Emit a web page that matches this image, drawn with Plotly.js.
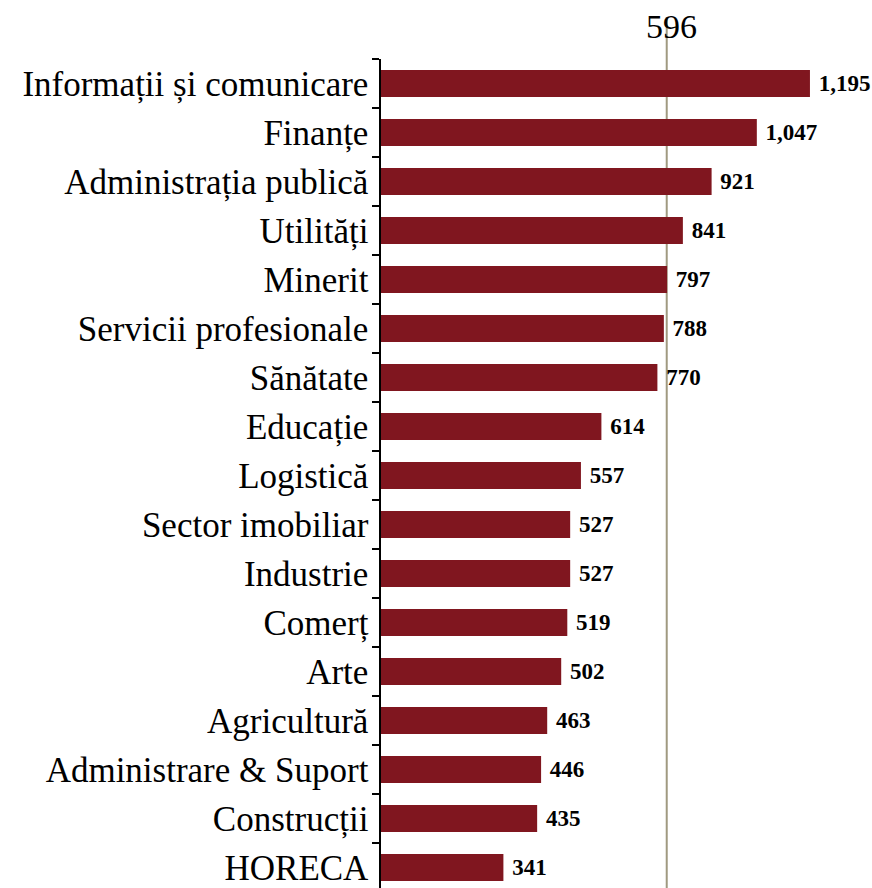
<!DOCTYPE html>
<html>
<head>
<meta charset="utf-8">
<script src="https://cdn.plot.ly/plotly-3.0.1.min.js"></script>
<style>html,body{margin:0;padding:0;background:#fff;}#chart{width:872px;height:888px;}</style>
</head>
<body>
<div id="chart"></div>
<script>
var categories = ["Informații și comunicare","Finanțe","Administrația publică","Utilități","Minerit","Servicii profesionale","Sănătate","Educație","Logistică","Sector imobiliar","Industrie","Comerț","Arte","Agricultură","Administrare & Suport","Construcții","HORECA"];
var values = [1195,1047,921,841,797,788,770,614,557,527,527,519,502,463,446,435,341];
var averageValue = 596;

var barColor = "#80161f";
var xRange = [0, 1340];
// reference-line axis: the drawn line sits at the position of ~796 on the bar scale
var x2Range = [0, xRange[1] * averageValue / 796];

var data = [
  {
    type: "bar",
    orientation: "h",
    y: categories,
    x: values,
    width: 0.55,
    marker: {color: barColor, line: {width: 0}},
    texttemplate: " %{x:,}",
    textposition: "outside",
    constraintext: "none",
    cliponaxis: false,
    textfont: {family: "Liberation Serif", size: 23, color: "#000", weight: "bold"},
    hoverinfo: "skip"
  },
  {
    type: "scatter",
    mode: "markers",
    x: [averageValue],
    y: [categories[0]],
    xaxis: "x2",
    marker: {opacity: 0},
    hoverinfo: "skip",
    showlegend: false
  }
];

var layout = {
  width: 872,
  height: 888,
  margin: {l: 381, r: 10, t: 59, b: 0},
  paper_bgcolor: "#fff",
  plot_bgcolor: "#fff",
  showlegend: false,
  bargap: 0.45,
  xaxis: {range: xRange, visible: false, fixedrange: true},
  xaxis2: {range: x2Range, overlaying: "x", visible: false, fixedrange: true},
  yaxis: {
    type: "category",
    range: [16.418, -0.5],
    showline: true,
    linecolor: "#000",
    linewidth: 1.6,
    ticks: "outside",
    tickson: "boundaries",
    ticklen: 7,
    tickwidth: 1.5,
    tickcolor: "#000",
    showgrid: false,
    zeroline: false,
    ticklabelstandoff: 4,
    tickfont: {family: "Liberation Serif", size: 35, color: "#000"},
    fixedrange: true
  },
  shapes: [
    {
      type: "line",
      xref: "x2",
      yref: "paper",
      x0: averageValue, x1: averageValue,
      y0: -0.0253, y1: 1.0507,
      line: {color: "#a09a80", width: 2},
      layer: "below"
    }
  ],
  annotations: [
    {
      xref: "x2",
      yref: "paper",
      x: averageValue,
      y: 1.039,
      text: String(averageValue),
      showarrow: false,
      xanchor: "center",
      yanchor: "middle",
      xshift: 5,
      font: {family: "Liberation Serif", size: 34, color: "#000"}
    }
  ]
};

Plotly.newPlot("chart", data, layout, {displayModeBar: false, staticPlot: true});
</script>
</body>
</html>
